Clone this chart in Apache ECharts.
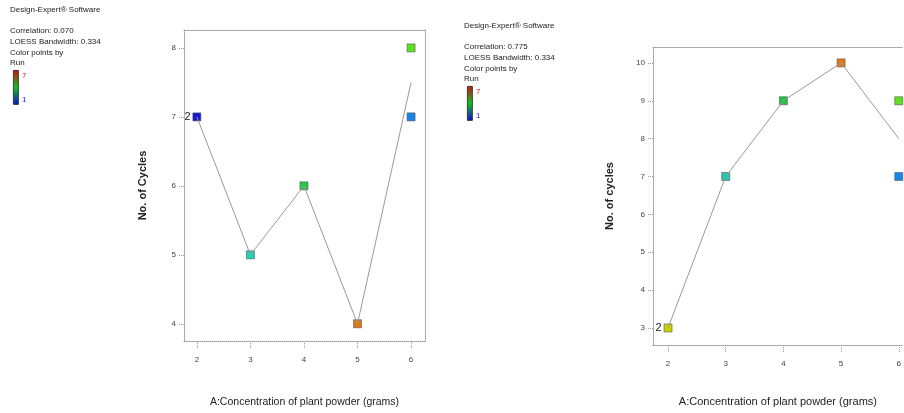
<!DOCTYPE html>
<html>
<head>
<meta charset="utf-8">
<script src="https://cdn.jsdelivr.net/npm/echarts@6/dist/echarts.min.js"></script>
<style>
html, body { margin: 0; padding: 0; background: #fff; }
#main { width: 904px; height: 413px; }
</style>
</head>
<body>
<div id="main"></div>
<script>
// left panel: No. of Cycles
var leftX = [2, 3, 4, 5, 6, 6]
var leftY = [7, 5, 6, 4, 8, 7]
var leftColors = ['#1717cf', '#22d2b8', '#22cc44', '#dd7a12', '#5ee022', '#1c84e6']
var leftFitX = [2, 3, 4, 5, 6]
var leftFitY = [7, 5, 6, 4, 7.5]
var leftYTicks = [4, 5, 6, 7, 8]

// right panel: No. of cycles
var rightX = [2, 3, 4, 5, 6, 6]
var rightY = [3, 7, 9, 10, 9, 7]
var rightColors = ['#c8d400', '#22c8b0', '#22c444', '#e07a12', '#5ee022', '#1c84e6']
var rightFitX = [2, 3, 4, 5, 6]
var rightFitY = [3, 7, 9, 10, 8]
var rightYTicks = [3, 4, 5, 6, 7, 8, 9, 10]

var xTicks = [2, 3, 4, 5, 6]
var xTitle = 'A:Concentration of plant powder (grams)'

var font = '"Liberation Sans", Arial, sans-serif'
var myChart = echarts.init(document.getElementById('main'));

function pts(xs, ys, colors) {
	var out = []
	for (var i = 0; i < xs.length; i++) {
		out.push({
			value: [xs[i], ys[i]],
			itemStyle: { color: colors[i] },
			label: { show: i == 0 }
		})
	}
	return out
}
function line(xs, ys) {
	return xs.map(function(x, i) { return [x, ys[i]] })
}

function xAx(idx, min, max, gap, fs) {
	return [{
		gridIndex: idx, type: 'value', min: min, max: max,
		name: xTitle, nameLocation: 'middle', nameGap: gap,
		nameTextStyle: { fontFamily: font, fontSize: fs, color: '#222' },
		axisLine: { lineStyle: { color: '#999', type: 'dotted' } },
		axisTick: { length: 8, customValues: xTicks, lineStyle: { color: '#999', type: 'dotted' } },
		axisLabel: { customValues: xTicks, margin: 15, fontFamily: font, fontSize: 8, color: '#444' },
		splitLine: { show: false }
	}, {
		gridIndex: idx, type: 'value', min: min, max: max, position: 'top',
		axisLine: { lineStyle: { color: '#999', type: 'dotted' } },
		axisTick: { show: false }, axisLabel: { show: false }, splitLine: { show: false }
	}]
}
function yAx(idx, min, max, ticks, title, gap, border) {
	return [{
		gridIndex: idx, type: 'value', min: min, max: max,
		name: title, nameLocation: 'middle', nameGap: gap,
		nameTextStyle: { fontFamily: font, fontSize: 11, fontWeight: 'bold', color: '#222' },
		axisLine: { show: true, lineStyle: { color: '#999', type: 'dotted' } },
		axisTick: { show: true, length: 5, customValues: ticks, lineStyle: { color: '#999', type: 'dotted' } },
		axisLabel: { customValues: ticks, margin: 8, fontFamily: font, fontSize: 8, color: '#444' },
		splitLine: { show: false }
	}, {
		gridIndex: idx, type: 'value', min: min, max: max, position: 'right',
		axisLine: { show: border, lineStyle: { color: '#999', type: 'dotted' } },
		axisTick: { show: false }, axisLabel: { show: false }, splitLine: { show: false }
	}]
}

function legendText(x, y0, corr) {
	var s = { fontFamily: font, fontSize: 8, fill: '#222' }
	function t(txt, dy, extra) {
		return { type: 'text', left: x, top: y0 + dy, style: Object.assign({ text: txt }, s, extra || {}) }
	}
	return [
		t('Design-Expert® Software', 0),
		t('Correlation: ' + corr, 21),
		t('LOESS Bandwidth: 0.334', 32),
		t('Color points by', 43),
		t('Run', 53),
		{
			type: 'rect', left: x + 3, top: y0 + 64,
			shape: { width: 5, height: 34 },
			style: {
				stroke: '#222', lineWidth: 0.8,
				fill: new echarts.graphic.LinearGradient(0, 0, 0, 1, [
					{ offset: 0, color: '#d01010' },
					{ offset: 0.5, color: '#10c020' },
					{ offset: 1, color: '#1010d0' }
				])
			}
		},
		t('7', 66, { fill: '#e02020' }),
		t('1', 90, { fill: '#2020e0' })
	].map(function(e, i) {
		if (i >= 6) e.left = x + 12
		return e
	})
}

option = {
	animation: false,
	grid: [
		{ left: 184, top: 30, width: 241, height: 311 },
		{ left: 653, top: 47, right: 0, height: 298 }
	],
	xAxis: xAx(0, 1.76, 6.26, 56, 10.5).concat(xAx(1, 1.74, 6.07, 51, 11)),
	yAxis: yAx(0, 3.75, 8.26, leftYTicks, 'No. of Cycles', 36, true).concat(
		yAx(1, 2.55, 10.42, rightYTicks, 'No. of cycles', 38, false)),
	graphic: legendText(10, 6, '0.070').concat(legendText(464, 22, '0.775')),
	series: [{
		type: 'line', xAxisIndex: 0, yAxisIndex: 0,
		data: line(leftFitX, leftFitY), symbol: 'none', silent: true,
		lineStyle: { color: '#999', width: 1 }
	}, {
		type: 'scatter', xAxisIndex: 0, yAxisIndex: 0,
		data: pts(leftX, leftY, leftColors),
		symbol: 'rect', symbolSize: 8,
		itemStyle: { borderColor: '#555', borderWidth: 0.6, opacity: 1 },
		label: { formatter: '2', position: 'left', distance: 2, fontFamily: font, fontSize: 11, color: '#222' }
	}, {
		type: 'line', xAxisIndex: 2, yAxisIndex: 2,
		data: line(rightFitX, rightFitY), symbol: 'none', silent: true,
		lineStyle: { color: '#999', width: 1 }
	}, {
		type: 'scatter', xAxisIndex: 2, yAxisIndex: 2,
		data: pts(rightX, rightY, rightColors),
		symbol: 'rect', symbolSize: 8,
		itemStyle: { borderColor: '#555', borderWidth: 0.6, opacity: 1 },
		label: { formatter: '2', position: 'left', distance: 2, fontFamily: font, fontSize: 11, color: '#222' }
	}]
};
myChart.setOption(option)
</script>
</body>
</html>
